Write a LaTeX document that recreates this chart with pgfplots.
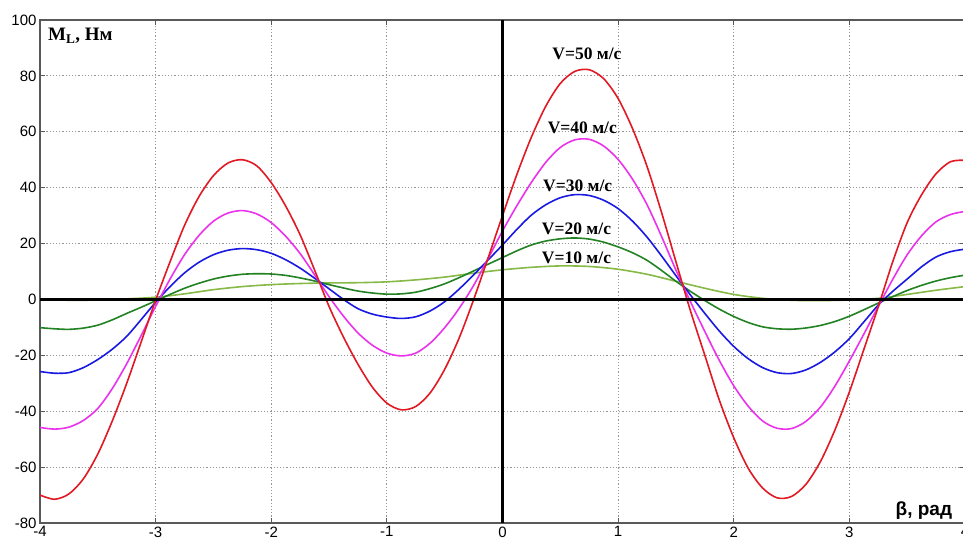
\documentclass[border=0pt]{standalone}
\usepackage{fontspec}
\setmainfont{Liberation Serif}
\newfontfamily\arial{Liberation Sans}
\usepackage{pgfplots}
\pgfplotsset{compat=1.18}
\usetikzlibrary{calc}
\definecolor{cred}{RGB}{225,25,35}
\definecolor{cmag}{RGB}{235,50,235}
\definecolor{cblue}{RGB}{25,25,225}
\definecolor{cdgreen}{RGB}{35,130,35}
\definecolor{clgreen}{RGB}{135,185,70}
\definecolor{cgrid}{RGB}{150,150,150}
\begin{document}
\begin{tikzpicture}
\begin{axis}[
    name=ax,
    scale only axis,
    width=925pt, height=503pt,
    xmin=-4, xmax=4, ymin=-80, ymax=100,
    xtick={-4,...,4},
    xticklabels={-4,-3,-2,-1,0,1,2,3,4},
    ytick={-80,-60,...,100},
    yticklabels={-80,-60,-40,-20,0,20,40,60,80,100},
    tick label style={font=\arial\fontsize{15}{15}\selectfont},
    grid=major,
    grid style={cgrid, line width=0.9pt, dash pattern=on 1.2pt off 2pt},
    axis line style={black!65, line width=1.2pt},
    tick align=inside,
    major tick length=5pt,
    tick style={black!65, line width=0.8pt},
    every axis plot/.append style={smooth, line width=1.6pt},
]
% V = 10 m/s
\addplot[clgreen] coordinates {(-4.0,0.2) (-3.75,-0.3) (-3.5,-0.2) (-3.25,0.2) (-3.0,0.8) (-2.75,2.0) (-2.5,3.5) (-2.25,4.6) (-2.0,5.3) (-1.75,5.7) (-1.5,5.9) (-1.25,6.0) (-1.0,6.3) (-0.75,7.0) (-0.5,8.0) (-0.25,9.4) (0.0,10.6) (0.25,11.5) (0.5,12.0) (0.75,11.8) (1.0,10.8) (1.25,9.0) (1.5,6.5) (1.75,4.0) (2.0,1.8) (2.25,0.4) (2.5,-0.3) (2.75,-0.4) (3.0,-0.2) (3.25,0.4) (3.5,1.8) (3.75,3.3) (4.0,4.6)};
% V = 20 m/s
\addplot[cdgreen] coordinates {(-4.0,-10.1) (-3.875,-10.5) (-3.75,-10.7) (-3.625,-10.25) (-3.5,-9.2) (-3.375,-7.3) (-3.25,-5.0) (-3.125,-2.8) (-3.0,-0.5) (-2.875,1.8) (-2.75,4.0) (-2.625,5.8) (-2.5,7.3) (-2.375,8.35) (-2.25,9.0) (-2.125,9.2) (-2.0,9.1) (-1.875,8.6) (-1.75,7.7) (-1.625,6.6) (-1.5,5.3) (-1.375,4.1) (-1.25,3.0) (-1.125,2.3) (-1.0,1.9) (-0.875,2.0) (-0.75,2.6) (-0.625,3.9) (-0.5,5.6) (-0.375,7.8) (-0.25,10.2) (-0.125,12.6) (0.0,15.0) (0.125,17.4) (0.25,19.5) (0.375,20.9) (0.5,21.7) (0.625,22.0) (0.75,21.6) (0.875,20.5) (1.0,18.8) (1.125,16.7) (1.25,14.0) (1.375,10.4) (1.5,6.5) (1.625,2.9) (1.75,-0.4) (1.875,-3.45) (2.0,-6.1) (2.125,-8.25) (2.25,-9.8) (2.375,-10.5) (2.5,-10.65) (2.625,-10.2) (2.75,-9.3) (2.875,-7.9) (3.0,-6.0) (3.125,-3.7) (3.25,-1.3) (3.375,1.0) (3.5,3.2) (3.625,5.05) (3.75,6.6) (3.875,7.8) (4.0,8.7)};
% V = 30 m/s
\addplot[cblue] coordinates {(-4.0,-25.8) (-3.875,-26.4) (-3.75,-26.2) (-3.625,-24.4) (-3.5,-21.5) (-3.375,-17.8) (-3.25,-13.2) (-3.125,-7.2) (-3.0,-1.0) (-2.875,4.6) (-2.75,9.5) (-2.625,13.3) (-2.5,16.0) (-2.375,17.6) (-2.25,18.2) (-2.125,17.8) (-2.0,16.5) (-1.875,14.2) (-1.75,11.2) (-1.625,7.6) (-1.5,3.8) (-1.375,0.0) (-1.25,-3.3) (-1.125,-5.25) (-1.0,-6.3) (-0.875,-6.8) (-0.75,-6.2) (-0.625,-4.1) (-0.5,-0.8) (-0.375,3.7) (-0.25,8.8) (-0.125,14.1) (0.0,19.5) (0.125,25.1) (0.25,30.2) (0.375,33.9) (0.5,36.4) (0.625,37.5) (0.75,37.2) (0.875,35.5) (1.0,32.5) (1.125,28.0) (1.25,22.3) (1.375,15.6) (1.5,8.5) (1.625,1.6) (1.75,-5.0) (1.875,-11.3) (2.0,-16.8) (2.125,-21.2) (2.25,-24.4) (2.375,-26.2) (2.5,-26.5) (2.625,-25.2) (2.75,-22.5) (2.875,-18.75) (3.0,-14.0) (3.125,-8.05) (3.25,-2.0) (3.375,2.9) (3.5,7.3) (3.625,11.7) (3.75,15.2) (3.875,17.1) (4.0,18.0)};
% V = 40 m/s
\addplot[cmag] coordinates {(-4.0,-45.8) (-3.875,-46.4) (-3.75,-45.7) (-3.625,-43.3) (-3.5,-39.0) (-3.375,-31.9) (-3.25,-23.0) (-3.125,-12.9) (-3.0,-2.5) (-2.875,7.3) (-2.75,16.0) (-2.625,22.9) (-2.5,28.0) (-2.375,30.9) (-2.25,31.8) (-2.125,30.6) (-2.0,27.5) (-1.875,22.6) (-1.75,16.4) (-1.625,8.8) (-1.5,1.0) (-1.375,-6.0) (-1.25,-12.0) (-1.125,-16.4) (-1.0,-19.2) (-0.875,-20.2) (-0.75,-19.2) (-0.625,-15.6) (-0.5,-10.1) (-0.375,-3.2) (-0.25,5.0) (-0.125,14.6) (0.0,24.5) (0.125,33.6) (0.25,41.9) (0.375,49.1) (0.5,54.4) (0.625,57.1) (0.75,57.3) (0.875,54.9) (1.0,50.1) (1.125,43.0) (1.25,33.9) (1.375,22.6) (1.5,10.5) (1.625,-0.75) (1.75,-11.5) (1.875,-21.8) (2.0,-30.9) (2.125,-38.2) (2.25,-43.5) (2.375,-46.1) (2.5,-46.2) (2.625,-43.6) (2.75,-38.5) (2.875,-31.0) (3.0,-22.0) (3.125,-12.4) (3.25,-2.5) (3.375,7.2) (3.5,16.0) (3.625,22.8) (3.75,27.8) (3.875,30.4) (4.0,31.5)};
% V = 50 m/s
\addplot[cred] coordinates {(-4.0,-70.0) (-3.875,-71.5) (-3.75,-69.6) (-3.625,-64.2) (-3.5,-55.3) (-3.375,-43.5) (-3.25,-30.0) (-3.125,-15.2) (-3.0,-0.3) (-2.875,13.5) (-2.75,26.5) (-2.625,36.8) (-2.5,44.3) (-2.375,48.8) (-2.25,50.0) (-2.125,47.8) (-2.0,41.8) (-1.875,33.4) (-1.75,23.1) (-1.625,10.5) (-1.5,-2.5) (-1.375,-13.5) (-1.25,-23.2) (-1.125,-31.4) (-1.0,-37.1) (-0.875,-39.5) (-0.75,-38.3) (-0.625,-33.4) (-0.5,-25.0) (-0.375,-13.8) (-0.25,-0.1) (-0.125,14.8) (0.0,30.0) (0.125,44.8) (0.25,58.1) (0.375,69.2) (0.5,77.3) (0.625,81.6) (0.75,82.2) (0.875,79.0) (1.0,71.9) (1.125,61.1) (1.25,47.6) (1.375,31.2) (1.5,13.5) (1.625,-4.0) (1.75,-20.0) (1.875,-36.0) (2.0,-49.5) (2.125,-60.4) (2.25,-67.5) (2.375,-71.0) (2.5,-70.5) (2.625,-66.1) (2.75,-58.0) (2.875,-46.7) (3.0,-33.1) (3.125,-17.9) (3.25,-2.6) (3.375,13.5) (3.5,27.5) (3.625,37.5) (3.75,45.0) (3.875,49.3) (4.0,49.8)};
% axes through the origin
\addplot[black, line width=2.6pt, sharp plot] coordinates {(-4,0) (4,0)};
\addplot[black, line width=2.6pt, sharp plot] coordinates {(0,-80) (0,100)};

\node[anchor=base west, font=\bfseries\fontsize{19}{19}\selectfont] at (axis cs:-3.96,92.7) {M\textsubscript{L}, Нм};
\node[anchor=base west, font=\arial\bfseries\fontsize{19}{19}\selectfont] at (axis cs:3.37,-77.3) {β, рад};
\begin{scope}[every node/.style={anchor=base, font=\bfseries\fontsize{17.5}{17.5}\selectfont}]
\node at (axis cs:0.73,85.9) {V=50 м/с};
\node at (axis cs:0.69,59.5) {V=40 м/с};
\node at (axis cs:0.65,38.6) {V=30 м/с};
\node at (axis cs:0.64,23.3) {V=20 м/с};
\node at (axis cs:0.64,13.0) {V=10 м/с};
\end{scope}
\end{axis}
\pgfresetboundingbox
\path[use as bounding box] ($(ax.south west)+(-40pt,-18pt)$) rectangle ($(ax.north east)+(-2pt,20pt)$);
\end{tikzpicture}
\end{document}
